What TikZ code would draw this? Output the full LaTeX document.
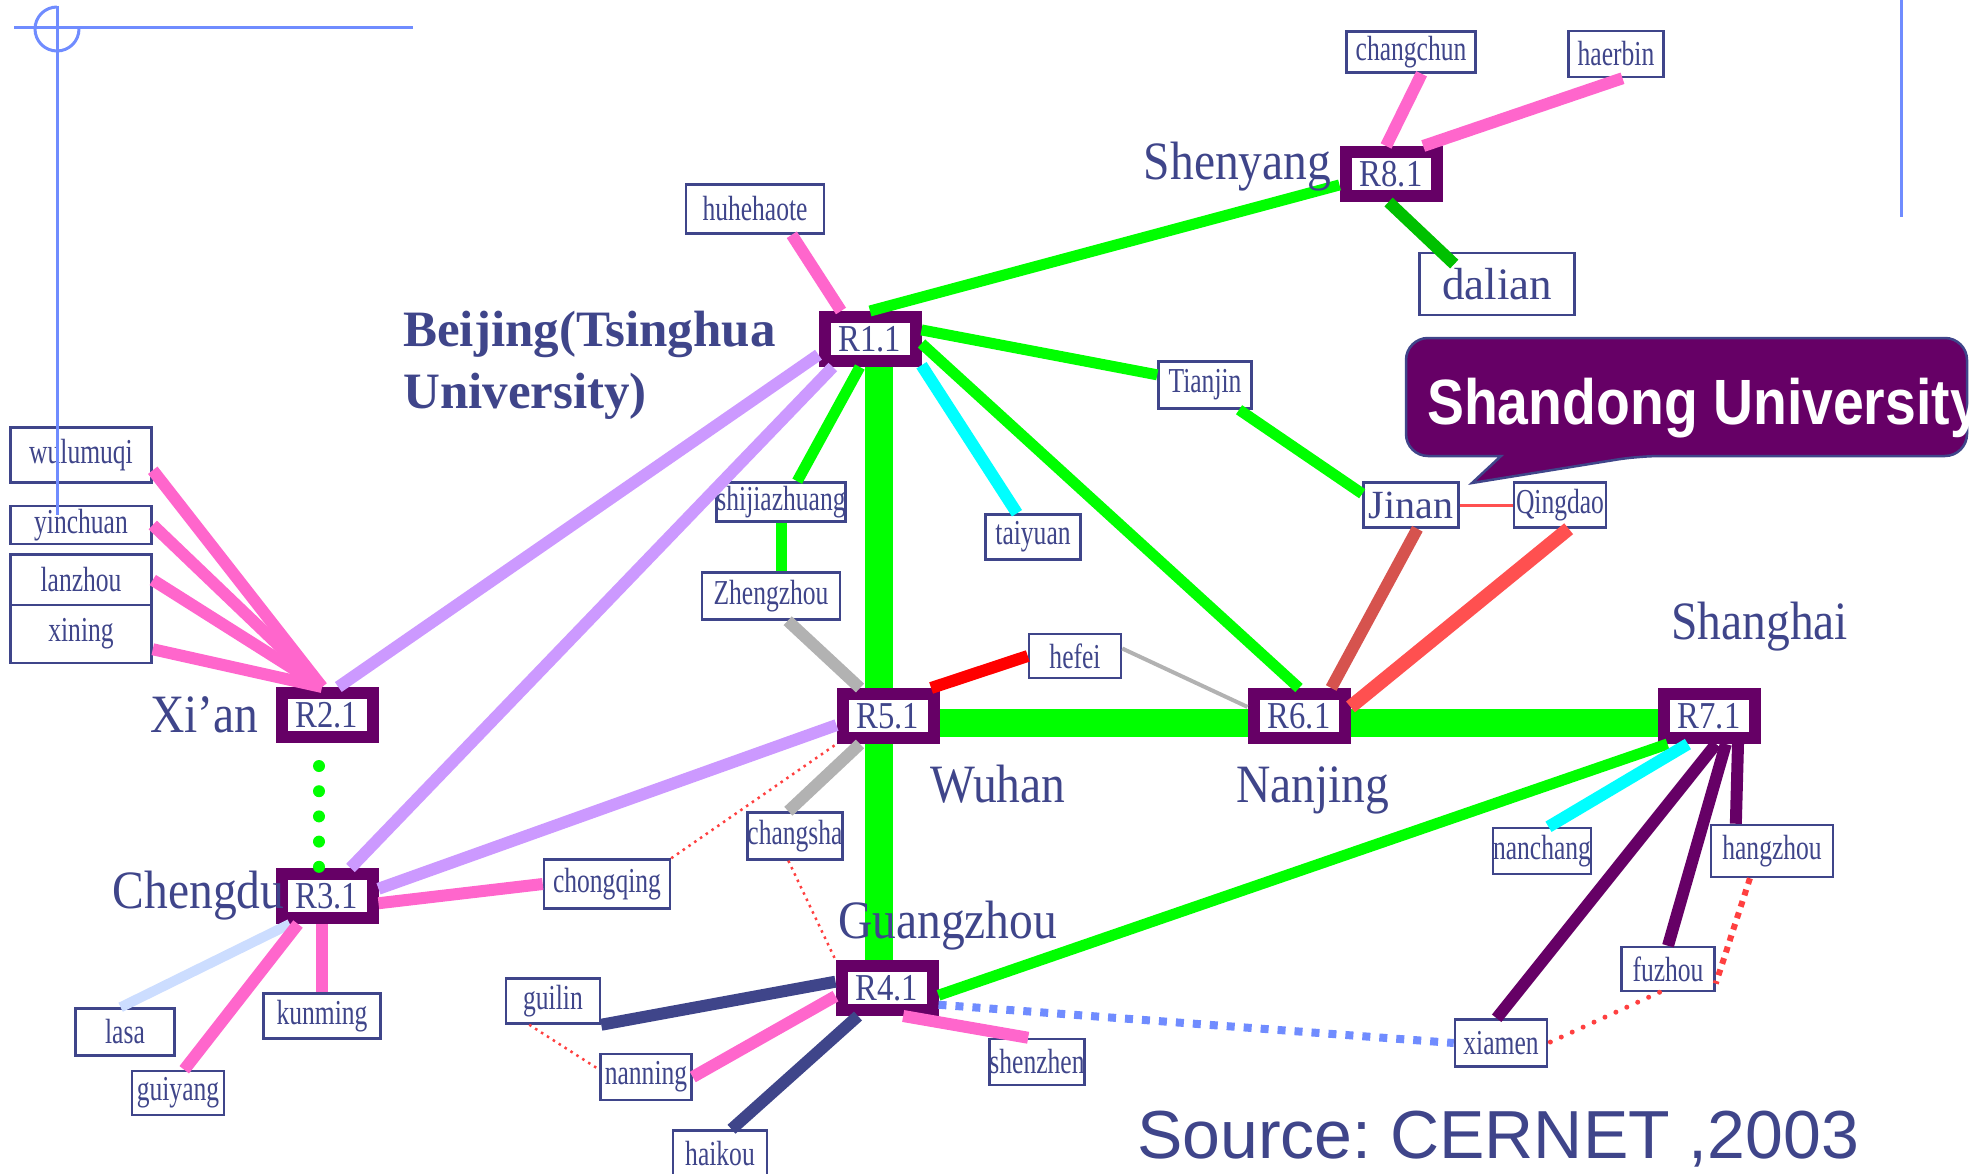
\documentclass[tikz,border=0pt]{standalone}
\usepackage{fontspec}
\setmainfont{Liberation Serif}
\newfontfamily\condserif[FakeStretch=0.73]{Liberation Serif}
\newfontfamily\rserif[FakeStretch=0.86]{Liberation Serif}
\newfontfamily\cityserif[FakeStretch=0.88]{Liberation Serif}
\newfontfamily\callsans[FakeStretch=0.865]{Liberation Sans}
\newfontfamily\plainsans{Liberation Sans}
\usepackage{tikz}
\usetikzlibrary{positioning}
\definecolor{rpurple}{RGB}{102,0,102}
\definecolor{tblue}{RGB}{63,69,138}
\definecolor{lgreen}{RGB}{0,255,0}
\definecolor{ldgreen}{RGB}{0,192,0}
\definecolor{lpink}{RGB}{255,102,204}
\definecolor{llav}{RGB}{204,153,255}
\definecolor{lcyan}{RGB}{0,255,255}
\definecolor{lgray}{RGB}{178,178,178}
\definecolor{lred}{RGB}{255,0,0}
\definecolor{lbrick}{RGB}{214,83,78}
\definecolor{lsalmon}{RGB}{255,80,80}
\definecolor{lblue}{RGB}{204,221,255}
\definecolor{peri}{RGB}{112,140,255}
\definecolor{dotred}{RGB}{255,64,64}
\tikzstyle{link} = [draw, line width=12pt]
\tikzstyle{trunk} = [draw, line width=28pt, color=lgreen]
\tikzstyle{thindot} = [draw, line width=2.5pt, color=dotred, dash pattern=on 2.5pt off 4.5pt]
\tikzstyle{deco} = [draw, line width=3pt, color=peri]

\begin{document}
\begin{tikzpicture}[x=1pt,y=-1pt,node distance=8pt,
router/.style={
  draw=rpurple,
  line width=12pt,
  fill=white,
  minimum width=91pt,
  minimum height=44pt,
  inner sep=0pt,
  text=tblue,
  font={\rserif\fontsize{38}{40}\selectfont}},
leaf/.style={
  draw=tblue,
  line width=2.5pt,
  fill=white,
  minimum width=93pt,
  minimum height=45pt,
  inner sep=0pt,
  text=tblue,
  font={\condserif\fontsize{35}{40}\selectfont}},
bigleaf/.style={leaf,font={\fontsize{40}{44}\selectfont}},
city/.style={inner sep=0pt,text=tblue,font={\cityserif\fontsize{54}{60}\selectfont}},
gdots/.style={draw,lgreen,line width=12pt,line cap=round,dash pattern=on 0pt off 25.2pt,dash phase=2.2pt},
pdash/.style={draw,peri,line width=8pt,dash pattern=on 8pt off 9pt},
redsq/.style={draw,dotred,line width=6pt,dash pattern=on 6pt off 6pt},
reddots/.style={draw,dotred,line width=5pt,line cap=round,dash pattern=on 0pt off 12pt},
]
\useasboundingbox (0,0) rectangle (1975,1174);

% routers
\node[router] (r11) at (870,339) {R1.1};
\node[router] (r21) at (327,715) {R2.1};
\node[router] (r31) at (327,896) {R3.1};
\node[router] (r41) at (887,988) {R4.1};
\node[router] (r51) at (888,716) {R5.1};
\node[router] (r61) at (1299,716) {R6.1};
\node[router] (r71) at (1709,716) {R7.1};
\node[router] (r81) at (1391,174) {R8.1};

% cities
\node[leaf, minimum width=141pt, minimum height=55pt] (wulumuqi) at (81,455) {wulumuqi};
\node[leaf, minimum width=141pt, minimum height=38pt] (yinchuan) at (81,525) {yinchuan};
\node[leaf, minimum width=141pt, minimum height=51pt] (lanzhou) at (81,580) {lanzhou};
\node[leaf, minimum width=141pt, minimum height=58pt] (xining) at (81,634) {xining};
\node[leaf, minimum width=138pt, minimum height=49pt] (huhehaote) at (755,209) {huhehaote};
\node[leaf, minimum width=129pt, minimum height=41pt] (changchun) at (1411,52) {changchun};
\node[leaf, minimum width=95pt, minimum height=46pt] (haerbin) at (1616,54) {haerbin};
\node[leaf, minimum width=155pt, minimum height=62pt, font={\fontsize{45}{50}\selectfont}] (dalian) at (1497,284) {dalian};
\node[leaf, minimum height=47pt] (tianjin) at (1205,385) {Tianjin};
\node[bigleaf, minimum width=95pt] (jinan) at (1411,505) {Jinan};
\node[leaf, minimum width=92pt] (qingdao) at (1560,505) {Qingdao};
\node[leaf, minimum width=95pt] (taiyuan) at (1033,537) {taiyuan};
\node[leaf, minimum width=127pt, minimum height=39pt] (sjz) at (781,502) {shijiazhuang};
\node[leaf, minimum width=138pt, minimum height=47pt] (zhengzhou) at (771,596) {Zhengzhou};
\node[leaf, minimum width=92pt, minimum height=44pt] (hefei) at (1075,656) {hefei};
\node[leaf, minimum height=47pt] (changsha) at (795,836) {changsha};
\node[leaf, minimum width=126pt, minimum height=49pt] (chongqing) at (607,884) {chongqing};
\node[leaf, minimum width=99pt, minimum height=47pt] (lasa) at (125,1032) {lasa};
\node[leaf, minimum width=117pt] (kunming) at (322,1016) {kunming};
\node[leaf, minimum width=92pt, minimum height=44pt] (guiyang) at (178,1093) {guiyang};
\node[leaf, minimum width=94pt] (guilin) at (553,1001) {guilin};
\node[leaf, minimum width=91pt, minimum height=46pt] (nanning) at (646,1077) {nanning};
\node[leaf, minimum width=94pt, minimum height=47pt] (haikou) at (720,1154) {haikou};
\node[leaf, minimum height=46pt] (shenzhen) at (1037,1062) {shenzhen};
\node[leaf, minimum height=46pt] (nanchang) at (1542,851) {nanchang};
\node[leaf, minimum width=122pt, minimum height=52pt] (hangzhou) at (1772,851) {hangzhou};
\node[leaf, minimum height=44pt] (fuzhou) at (1668,969) {fuzhou};
\node[leaf, minimum width=92pt, minimum height=47pt] (xiamen) at (1501,1043) {xiamen};

% backbone
\coordinate (tkv) at (879,0);
\coordinate (tkh) at (0,723);
\path [trunk] (r11.south -| tkv) -- (r51.north -| tkv);
\path [trunk] (r51.south -| tkv) -- (r41.north -| tkv);
\path [trunk] (r51.east |- tkh) -- (r61.west |- tkh);
\path [trunk] (r61.east |- tkh) -- (r71.west |- tkh);

% R1.1
\path [link, lpink] (huhehaote.-35) -- (r11.136);
\path [link, lgreen, line width=11pt] (r11.north) -- (r81.192);
\path [link, lgreen, line width=11pt] (r11.10) -- (tianjin.168);
\path [link, lgreen, line width=11pt] (r11.-5) -- (r61.north);
\path [link, lcyan] (r11.-27) -- (taiyuan.124);
\path [link, lgreen, line width=11pt] (r11.-110) -- (sjz.52);
\path [link, llav] (r21.68) -- (r11.197);
\path [link, llav] (r31.50) -- (r11.217);

% R2.1 / R3.1
\path [link, lpink] (wulumuqi.-12) -- (r21.100);
\path [link, lpink] (yinchuan.east) -- (r21.100);
\path [link, lpink] (lanzhou.east) -- (r21.100);
\path [link, lpink] (xining.-12) -- (r21.100);
\path [gdots] ([xshift=-8pt]r21.south) -- ([xshift=-8pt]r31.north);
\path [link, llav] (r31.8) -- (r51.190);
\path [link, lpink] (r31.-8) -- (chongqing.west);
\path [link, lblue, line width=10pt] (r31.217) -- (lasa.100);
\path [link, lpink] (r31.224) -- (guiyang.75);
\path [link, lpink] (r31.south -| kunming) -- (kunming.north);

% R5.1
\path [link, lgray] (zhengzhou.-56) -- (r51.135);
\path [link, lgreen, line width=11pt] (sjz.south) -- (zhengzhou.north -| sjz);
\path [link, lred] (r51.33) -- (hefei.west);
\path [link, lgray, line width=4pt] (hefei.9) -- (r61.170);
\path [link, lgray] (r51.225) -- (changsha.105);
\path [thindot] (chongqing.north east) -- (r51.south west);
\path [thindot] (changsha.255) -- (r41.north west);

% R4.1
\path [link, tblue] (guilin.south east) -- (r41.173);
\path [link, lpink] (nanning.east) -- (r41.189);
\path [link, tblue] (haikou.65) -- (r41.224);
\path [link, lpink] (r41.-60) -- (shenzhen.110);
\path [link, lgreen, line width=11pt] (r41.-8) -- (r71.214);
\path [pdash] (r41.-18) -- (xiamen.west);
\path [thindot] (guilin.-135) -- (nanning.171);

% R6.1
\path [link, lbrick] (jinan.-75) -- (r61.41);
\path [link, lsalmon, line width=14pt] (qingdao.-70) -- (r61.10);
\path [link, lgreen, line width=11pt] (tianjin.-36) -- (jinan.167);
\path [draw, lsalmon, line width=3pt] (jinan.east) -- (qingdao.west);

% R7.1
\path [link, lcyan] (r71.233) -- (nanchang.75);
\path [link, rpurple] (r71.-76) -- (xiamen.100);
\path [link, rpurple] (r71.-59) -- (fuzhou.north);
\path [link, rpurple] (r71.-44) -- (hangzhou.143);
\path [redsq] (hangzhou.231) -- (fuzhou.-17);
\path [reddots] (fuzhou.-110) -- (xiamen.east);

% R8.1
\path [link, lpink] (changchun.-64) -- (r81.100);
\path [link, lpink] (haerbin.-75) -- (r81.41);
\path [link, ldgreen, shorten >=-18pt] (r81.-95) -- (dalian.150);

% labels
\node[city, left=8pt of r81, yshift=7pt] (lshenyang) {Shenyang};
\node[city, left=17pt of r21] (lxian) {Xi’an};
\node[city, left=-9pt of r31] (lchengdu) {Chengdu};
\node[city, anchor=base west] (lwuhan) at (930,802) {Wuhan};
\node[city, anchor=base west] (lnanjing) at (1236,802) {Nanjing};
\node[city, anchor=base west] (lguangzhou) at (838,938) {Guangzhou};
\node[city, anchor=base west] (lshanghai) at (1671,639) {Shanghai};
\node[inner sep=0pt, text=tblue, align=left, anchor=north west,
  font={\bfseries\fontsize{51}{62}\selectfont}] (lbeijing) at (403,311)
  {Beijing(Tsinghua\\University)};
\node[inner sep=0pt, text=tblue, anchor=base west,
  font={\plainsans\fontsize{68}{72}\selectfont\frenchspacing}] (src) at (1137,1158)
  {Source: CERNET ,2003};

% callout
\path [fill=rpurple, draw=tblue, line width=2.5pt]
  (1406,360) [rounded corners=22pt] -- (1406,338) -- (1967,338) -- (1967,456)
  -- (1639,456) [sharp corners] -- (1472,483) -- (1501,456)
  [rounded corners=22pt] -- (1406,456) -- (1406,360);
\node[inner sep=0pt, text=white, anchor=base west,
  font={\callsans\bfseries\fontsize{64}{70}\selectfont}] (sdu) at (1427,424)
  {Shandong University};

% corner marks
\path [deco] (14,28) -- (413,28);
\path [deco] (57,6) -- (57,515);
\path [deco] (57,7) arc[start angle=90, end angle=360, radius=22pt];
\path [deco] (1901,0) -- (1901,217);
\end{tikzpicture}
\end{document}
